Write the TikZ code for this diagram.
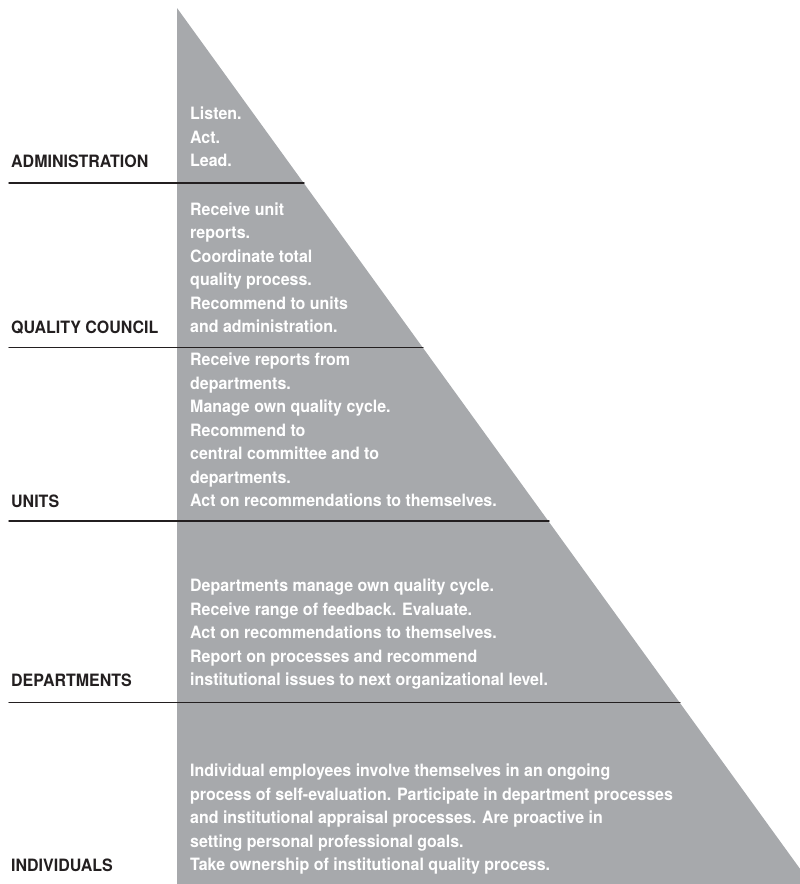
\documentclass[tikz,border=0pt]{standalone}
\usepackage{fontspec}
\setmainfont{TeX Gyre Heros}[FakeStretch=0.94]
\definecolor{pyrgray}{HTML}{A7A9AC}
\definecolor{inkblack}{HTML}{231F20}

\begin{document}
\begin{tikzpicture}[x=1pt, y=-1pt, line cap=round, line join=round, font=\fontsize{17}{23.5}\selectfont\bfseries]
	\tikzset{level label/.style={anchor=base west, inner sep=0pt, text=inkblack},
		level text/.style={anchor=south west, inner sep=0pt, text depth=0pt, align=left, text=white},
		level line/.style={inkblack, line width=1.4pt}}
	\clip (0,0) rectangle (800,884);
	\fill[pyrgray] (177,8) -- (811,884) -- (177,884) -- cycle;
	\foreach \y/\xe in {183/304, 347.5/423, 521/549, 702.5/680}
		\draw[level line] (9,\y) -- (\xe,\y);
	% level names
	\node[level label] (admin) at (11,167) {ADMINISTRATION};
	\node[level label] (council) at (11,333) {QUALITY COUNCIL};
	\node[level label] (units) at (11,507) {UNITS};
	\node[level label] (depts) at (11,686) {DEPARTMENTS};
	\node[level label] (indiv) at (11,871) {INDIVIDUALS};
	% tasks inside the pyramid
	\node[level text] (admintasks) at (190,167) {Listen.\\Act.\\Lead.};
	\node[level text] (counciltasks) at (190,333) {Receive unit\\reports.\\Coordinate total\\quality process.\\Recommend to units\\and administration.};
	\node[level text] (unittasks) at (190,507) {Receive reports from\\departments.\\Manage own quality cycle.\\Recommend to\\central committee and to\\departments.\\Act on recommendations to themselves.};
	\node[level text] (depttasks) at (190,686) {Departments manage own quality cycle.\\Receive range of feedback. Evaluate.\\Act on recommendations to themselves.\\Report on processes and recommend\\institutional issues to next organizational level.};
	\node[level text] (indivtasks) at (190,871) {Individual employees involve themselves in an ongoing\\process of self-evaluation. Participate in department processes\\and institutional appraisal processes. Are proactive in\\setting personal professional goals.\\Take ownership of institutional quality process.};
\end{tikzpicture}
\end{document}
